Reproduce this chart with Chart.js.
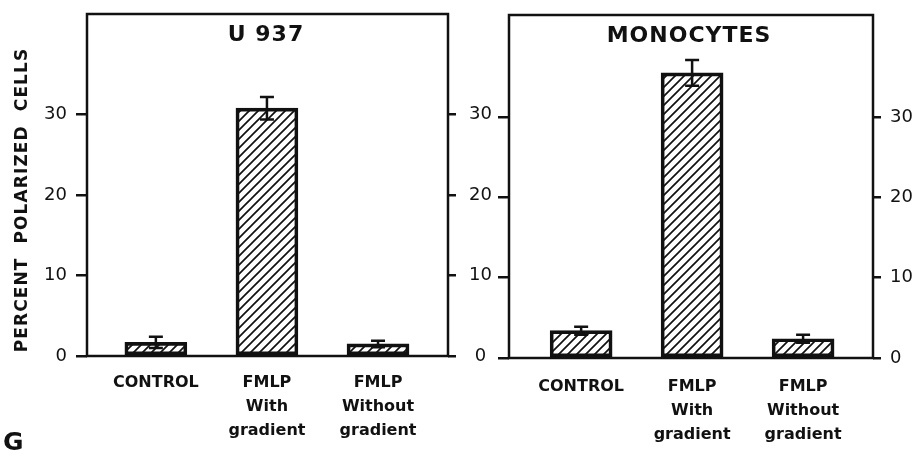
<!DOCTYPE html>
<html>
<head>
<meta charset="utf-8">
<script src="https://cdn.jsdelivr.net/npm/chart.js@4.4.0/dist/chart.umd.min.js"></script>
<style>
    html, body { margin: 0; padding: 0; background: #fff; }
    #wrap { position: relative; width: 917px; height: 457px; overflow: hidden; }
    #c1 { position: absolute; left: 0; top: 0; }
    #c2 { position: absolute; left: 490px; top: 0; }
    #g { position: absolute; left: 3px; top: 427px; font: bold 25px "DejaVu Sans"; color: #111; }
</style>
</head>
<body>
<div id="wrap">
    <canvas id="c1" width="500" height="457" style="width:500px;height:457px"></canvas>
    <canvas id="c2" width="427" height="457" style="width:427px;height:457px"></canvas>
    <div id="g">G</div>
</div>
<script>
// data
const categories = [['CONTROL'], ['FMLP', 'With', 'gradient'], ['FMLP', 'Without', 'gradient']];
const yTicks = [0, 10, 20, 30];
const u937Values = [1.7, 30.8, 1.5];
const u937Errors = [0.7, 1.4, 0.4];
const monoValues = [3.4, 35.5, 2.4];
const monoErrors = [0.5, 1.6, 0.5];

const INK = '#111';
const FONT = '"DejaVu Sans", sans-serif';

// diagonal "/" hatch used as bar fill
function makeHatch() {
    const s = 9;
    const c = document.createElement('canvas');
    c.width = s; c.height = s;
    const g = c.getContext('2d');
    g.strokeStyle = INK;
    g.lineWidth = 1.7;
    g.beginPath();
    g.moveTo(0, s); g.lineTo(s, 0);
    g.moveTo(-s / 2, s / 2); g.lineTo(s / 2, -s / 2);
    g.moveTo(s / 2, s + s / 2); g.lineTo(s + s / 2, s / 2);
    g.stroke();
    return g.createPattern(c, 'repeat');
}

// error bars drawn from the named arrays through the y scale
const errorBars = {
    id: 'errorBars',
    afterDatasetsDraw(chart, args, opts) {
        const { ctx } = chart;
        const ys = chart.scales.y;
        const meta = chart.getDatasetMeta(0);
        ctx.save();
        ctx.strokeStyle = INK;
        ctx.lineWidth = 2.5;
        meta.data.forEach((bar, i) => {
            const v = opts.values[i], e = opts.errors[i];
            const yTop = ys.getPixelForValue(v + e);
            const yBot = ys.getPixelForValue(v - e);
            const x = bar.x, cap = 7;
            ctx.beginPath();
            ctx.moveTo(x, yTop); ctx.lineTo(x, yBot);
            ctx.moveTo(x - cap, yTop); ctx.lineTo(x + cap, yTop);
            ctx.moveTo(x - cap, yBot); ctx.lineTo(x + cap, yBot);
            ctx.stroke();
        });
        ctx.restore();
    }
};

// box around the plot, panel title inside, optional y title
const frame = {
    id: 'frame',
    afterDraw(chart, args, opts) {
        const { ctx, chartArea: a } = chart;
        ctx.save();
        ctx.strokeStyle = INK;
        ctx.lineWidth = 2.5;
        ctx.strokeRect(a.left, a.top, a.right - a.left, a.bottom - a.top);
        ctx.fillStyle = INK;
        ctx.textAlign = 'center';
        ctx.textBaseline = 'middle';
        ctx.font = 'bold 22px ' + FONT;
        ctx.letterSpacing = '1px';
        ctx.fillText(opts.title, opts.titleX, opts.titleY);
        if (opts.yTitle) {
            ctx.translate(opts.yTitleX, opts.yTitleY);
            ctx.rotate(-Math.PI / 2);
            ctx.font = 'bold 17px ' + FONT;
            ctx.letterSpacing = '1.1px';
            ctx.fillText(opts.yTitle, 0, 0);
        }
        ctx.restore();
    }
};

// drop the label-overflow padding so the plot box lands where asked
function noPad(s) {
    s.paddingTop = 0; s.paddingBottom = 0;
    s.paddingLeft = 0; s.paddingRight = 0;
}

function buildPanel(el, values, errors, p) {
    const tickFont = { family: FONT, size: 18 };
    return new Chart(el, {
        type: 'bar',
        data: {
            datasets: [{
                data: values.map((v, i) => ({ x: i, y: v })),
                backgroundColor: makeHatch(),
                borderColor: INK,
                borderWidth: 3,
                borderSkipped: false,
                barThickness: 62
            }]
        },
        options: {
            responsive: false,
            animation: false,
            layout: { padding: { top: p.top, left: 0, right: 0, bottom: 0 } },
            plugins: {
                legend: { display: false },
                tooltip: { enabled: false },
                errorBars: { values: values, errors: errors },
                frame: p.frame
            },
            scales: {
                x: {
                    type: 'linear',
                    offset: false,
                    min: p.xMin, max: p.xMax,
                    grid: { display: false, drawTicks: false, offset: false },
                    border: { display: false },
                    afterBuildTicks: s => { s.ticks = categories.map((_, i) => ({ value: i })); },
                    afterFit: s => { s.height = p.xAxisH; noPad(s); },
                    ticks: {
                        callback: v => categories[v],
                        color: INK,
                        padding: p.xPad,
                        maxRotation: 0,
                        autoSkip: false,
                        font: { family: FONT, size: 16, weight: 'bold', lineHeight: 1.5 }
                    }
                },
                y: {
                    position: 'left',
                    min: 0, max: p.yMax,
                    afterBuildTicks: s => { s.ticks = yTicks.map(v => ({ value: v })); },
                    afterFit: s => { s.width = p.leftW; noPad(s); },
                    grid: { drawOnChartArea: false, color: INK, lineWidth: 2.5, tickLength: p.leftTick },
                    border: { display: false },
                    ticks: {
                        color: INK, font: tickFont, padding: 9,
                        callback: v => (p.leftLabels ? v : '')
                    }
                },
                y2: {
                    position: 'right',
                    min: 0, max: p.yMax,
                    afterBuildTicks: s => { s.ticks = yTicks.map(v => ({ value: v })); },
                    afterFit: s => { s.width = p.rightW; noPad(s); },
                    grid: { drawOnChartArea: false, color: INK, lineWidth: 2.5, tickLength: 8 },
                    border: { display: false },
                    ticks: { color: INK, font: tickFont, padding: p.rightPad, crossAlign: p.rightAlign }
                }
            }
        },
        plugins: [errorBars, frame]
    });
}

buildPanel(document.getElementById('c1'), u937Values, u937Errors, {
    top: 14, xAxisH: 101, xPad: 15, yMax: 42.5, xMin: -0.62, xMax: 2.63,
    leftW: 87, leftTick: 11, leftLabels: true, rightW: 52, rightPad: 13, rightAlign: 'center',
    frame: { title: 'U 937', titleX: 266, titleY: 35,
             yTitle: 'PERCENT  POLARIZED  CELLS', yTitleX: 23, yTitleY: 200 }
});

buildPanel(document.getElementById('c2'), monoValues, monoErrors, {
    top: 15, xAxisH: 99, xPad: 17, yMax: 42.7, xMin: -0.65, xMax: 2.63,
    leftW: 19, leftTick: 11, leftLabels: false, rightW: 44, rightPad: 9, rightAlign: 'near',
    frame: { title: 'MONOCYTES', titleX: 199, titleY: 36 }
});
</script>
</body>
</html>
